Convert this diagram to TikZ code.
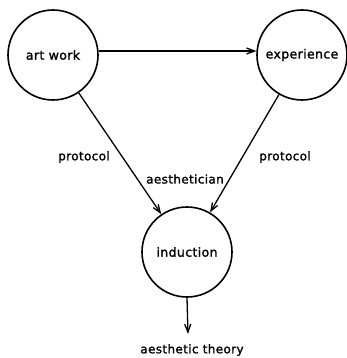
\documentclass[tikz,border=0pt]{standalone}
\usepackage{fontspec}
\setmainfont{DejaVu Sans}[LetterSpace=3,FakeBold=1.5]
\usetikzlibrary{arrows.meta}
\begin{document}
\begin{tikzpicture}[x=1pt,y=-1pt,
  state/.style={circle,draw,line width=1.6pt,minimum size=90pt,inner sep=0pt,font=\fontsize{12.5}{14}\selectfont},
  lbl/.style={font=\fontsize{12}{14}\selectfont,inner sep=0pt},
  conn/.style={line width=1.3pt,-{Straight Barb[length=8pt,width=6pt]}}]
\useasboundingbox (0,0) rectangle (347,358);
\node[state] (art) at (53,55) {art work};
\node[state] (exp) at (302,55) {experience};
\node[state] (ind) at (187,252) {induction};
\coordinate (end) at (188,334);
\node[lbl] (theory) at (192,350) {aesthetic theory};
\node[lbl] (p1) at (84,157) {protocol};
\node[lbl] (p2) at (285,157) {protocol};
\node[lbl] (ae) at (185,179) {aesthetician};
\draw[conn] (art.5) -- (exp.175);
\draw[conn] (art) -- (ind);
\draw[conn] (exp) -- (ind);
\draw[conn] (ind.south) -- (end);
\end{tikzpicture}
\end{document}
